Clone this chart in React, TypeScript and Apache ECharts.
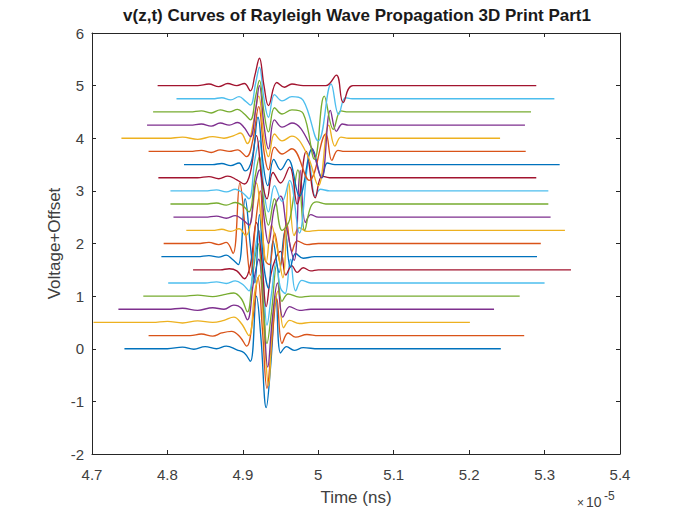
import React, { useEffect, useRef } from "react";
import * as echarts from "echarts";

// Offsets of each trace (Voltage + Offset)
const offsets = [0, 0.25, 0.5, 0.75, 1.0, 1.25, 1.5, 1.75, 2.0, 2.25, 2.5, 2.75, 3.0, 3.25, 3.5, 3.75, 4.0, 4.25, 4.5, 4.75, 5.0];

// Key points of each trace: [time (x1e-5), voltage relative to its offset]
const trace0 = [[4.743,0],[4.80,0],[4.82,0.03],[4.835,-0.01],[4.85,0.04],[4.865,0],[4.878,0.05],[4.892,-0.02],[4.902,-0.08],[4.910,-0.24],[4.918,1.0],[4.924,0.2],[4.931,-1.12],[4.937,-0.3],[4.944,1.0],[4.950,-0.08],[4.958,0.04],[4.968,-0.03],[4.98,0.02],[5.0,0],[5.242,0]];
const trace1 = [[4.775,0],[4.83,0],[4.845,0.03],[4.86,-0.01],[4.872,0.05],[4.885,0.08],[4.896,-0.02],[4.905,-0.2],[4.913,0.3],[4.920,1.1],[4.926,0.1],[4.932,-1.0],[4.938,-0.2],[4.945,0.7],[4.952,-0.15],[4.96,0.05],[4.97,-0.03],[4.985,0.02],[5.0,0],[5.273,0]];
const trace2 = [[4.702,0],[4.78,0],[4.80,0.02],[4.82,-0.01],[4.84,0.03],[4.86,0],[4.875,0.04],[4.888,0.1],[4.898,-0.02],[4.908,-0.25],[4.916,0.6],[4.922,0.9],[4.928,-0.2],[4.934,-1.2],[4.940,0.1],[4.947,0.6],[4.954,-0.1],[4.962,0.04],[4.975,-0.02],[4.99,0],[5.201,0]];
const trace3 = [[4.735,0],[4.80,0],[4.82,0.02],[4.84,-0.02],[4.86,0.03],[4.875,0],[4.888,0.08],[4.898,0.02],[4.906,-0.2],[4.914,0.5],[4.921,0.95],[4.927,0.1],[4.933,-1.1],[4.939,-0.2],[4.946,0.5],[4.953,-0.15],[4.962,0.05],[4.975,-0.02],[4.99,0],[5.233,0]];
const trace4 = [[4.768,0],[4.82,0],[4.84,0.02],[4.86,-0.01],[4.875,0.03],[4.888,0.06],[4.898,-0.05],[4.906,-0.3],[4.913,0.4],[4.920,1.0],[4.926,0.2],[4.932,-0.9],[4.938,-0.3],[4.945,0.6],[4.952,-0.1],[4.96,0.04],[4.975,-0.02],[4.99,0],[5.267,0]];
const trace5 = [[4.801,0],[4.85,0],[4.865,0.02],[4.878,-0.01],[4.89,0.04],[4.90,-0.03],[4.908,-0.15],[4.915,0.5],[4.921,1.0],[4.927,0.1],[4.932,-0.8],[4.938,-0.2],[4.944,0.4],[4.950,-0.1],[4.956,-0.2],[4.963,0.45],[4.970,-0.15],[4.978,0.05],[4.99,0],[5.30,0]];
const trace6 = [[4.834,0],[4.87,0],[4.882,0.02],[4.892,-0.02],[4.902,-0.17],[4.910,0.1],[4.918,0.9],[4.925,0.2],[4.931,-0.7],[4.937,-0.1],[4.943,0.2],[4.950,0.35],[4.957,-0.1],[4.965,0.08],[4.972,-0.05],[4.98,0.04],[4.99,-0.02],[5.0,0],[5.335,0]];
const trace7 = [[4.792,0],[4.84,0],[4.855,0.02],[4.868,-0.01],[4.878,0.03],[4.886,-0.05],[4.894,-0.15],[4.903,1.1],[4.910,0.2],[4.916,-0.5],[4.922,0.8],[4.928,-0.2],[4.934,-0.6],[4.940,0.3],[4.948,-0.3],[4.956,0.5],[4.963,-0.2],[4.970,0.06],[4.98,-0.03],[4.995,0],[5.29,0]];
const trace8 = [[4.795,0],[4.84,0],[4.855,0.02],[4.868,-0.02],[4.878,0.02],[4.887,-0.19],[4.896,1.15],[4.903,0.3],[4.910,-0.6],[4.917,0.4],[4.923,1.0],[4.929,-0.3],[4.935,-0.4],[4.942,0.2],[4.950,-0.4],[4.958,0.4],[4.965,-0.15],[4.972,0.05],[4.985,-0.02],[5.0,0],[5.295,0]];
const trace9 = [[4.825,0],[4.86,0],[4.872,0.02],[4.884,-0.02],[4.895,0.03],[4.904,-0.1],[4.911,0.2],[4.918,0.9],[4.925,0.1],[4.931,-0.6],[4.938,0.1],[4.945,-0.3],[4.953,-0.9],[4.961,0.9],[4.968,-0.1],[4.975,0.05],[4.985,-0.02],[5.0,0],[5.327,0]];
const trace10 = [[4.808,0],[4.85,0],[4.865,0.02],[4.878,-0.02],[4.89,0.03],[4.900,-0.05],[4.908,-0.15],[4.916,0.6],[4.922,0.9],[4.928,0.0],[4.934,-0.5],[4.942,0.2],[4.950,0.4],[4.958,-0.2],[4.968,-0.82],[4.976,0.89],[4.983,-0.1],[4.990,0.05],[5.0,0],[5.308,0]];
const trace11 = [[4.804,0],[4.85,0],[4.865,0.02],[4.878,-0.02],[4.89,0.03],[4.900,-0.03],[4.908,-0.15],[4.916,0.5],[4.922,0.9],[4.928,0.0],[4.934,-0.4],[4.942,0.1],[4.952,-0.5],[4.962,-0.3],[4.973,0.65],[4.982,-0.5],[4.990,-0.05],[4.998,0.04],[5.01,0],[5.305,0]];
const trace12 = [[4.804,0],[4.85,0],[4.865,0.02],[4.878,-0.02],[4.89,0.03],[4.900,-0.04],[4.908,-0.15],[4.916,0.6],[4.922,0.95],[4.928,0.0],[4.934,-0.4],[4.942,0.1],[4.952,-0.2],[4.962,0.2],[4.975,-0.8],[4.988,0.55],[4.996,-0.1],[5.003,0.03],[5.015,0],[5.305,0]];
const trace13 = [[4.788,0],[4.84,0],[4.855,0.02],[4.868,-0.02],[4.88,0.03],[4.892,-0.04],[4.902,-0.12],[4.910,0.1],[4.918,0.8],[4.925,0.0],[4.932,-0.4],[4.940,0.1],[4.950,-0.1],[4.962,0.2],[4.972,-0.5],[4.984,0.5],[4.996,-0.38],[5.005,0.03],[5.015,0],[5.289,0]];
const trace14 = [[4.822,0],[4.86,0],[4.872,0.02],[4.884,-0.02],[4.895,0.03],[4.903,-0.12],[4.912,0.1],[4.920,0.9],[4.927,0.0],[4.933,-0.4],[4.941,0.1],[4.950,-0.1],[4.960,0.1],[4.975,-0.6],[4.992,0.3],[5.005,-0.25],[5.012,0.03],[5.022,0],[5.32,0]];
const trace15 = [[4.775,0],[4.83,0],[4.845,0.02],[4.858,-0.02],[4.87,0.03],[4.882,0],[4.893,0.03],[4.905,-0.1],[4.913,0.2],[4.921,0.85],[4.928,0.0],[4.934,-0.35],[4.942,0.08],[4.952,-0.05],[4.965,0.05],[4.988,-0.55],[5.01,0.33],[5.018,-0.17],[5.026,0.02],[5.035,0],[5.275,0]];
const trace16 = [[4.739,0],[4.80,0],[4.82,0.02],[4.84,-0.02],[4.86,0.03],[4.875,0],[4.888,0.05],[4.897,0.1],[4.906,-0.1],[4.914,0.3],[4.921,0.8],[4.928,0.0],[4.934,-0.35],[4.942,0.08],[4.952,-0.05],[4.965,0.04],[4.985,-0.3],[5.0,-0.9],[5.014,0.25],[5.022,-0.15],[5.03,0.02],[5.04,0],[5.241,0]];
const trace17 = [[4.773,0],[4.83,0],[4.845,0.02],[4.858,-0.02],[4.87,0.04],[4.882,0],[4.893,0.05],[4.902,-0.05],[4.910,-0.22],[4.917,0.3],[4.922,0.75],[4.928,0.0],[4.934,-0.45],[4.942,0.1],[4.952,-0.04],[4.965,0.04],[4.99,-0.4],[5.004,-1.0],[5.016,0.28],[5.024,-0.12],[5.032,0.02],[5.04,0],[5.274,0]];
const trace18 = [[4.781,0],[4.83,0],[4.845,0.02],[4.858,-0.02],[4.87,0.04],[4.882,0],[4.893,0.05],[4.902,-0.04],[4.910,-0.15],[4.917,0.3],[4.922,0.6],[4.928,0.0],[4.934,-0.38],[4.942,0.08],[4.952,-0.04],[4.965,0.04],[4.98,-0.03],[4.995,-0.9],[5.008,0.3],[5.02,-0.33],[5.03,0.02],[5.04,0],[5.282,0]];
const trace19 = [[4.812,0],[4.86,0],[4.872,0.02],[4.884,-0.02],[4.895,0.04],[4.903,-0.04],[4.910,-0.12],[4.917,0.3],[4.922,0.6],[4.928,0.0],[4.934,-0.35],[4.942,0.08],[4.952,-0.04],[4.965,0.04],[4.98,-0.03],[5.0,-0.8],[5.017,0.28],[5.027,-0.3],[5.036,0.02],[5.045,0],[5.313,0]];
const trace20 = [[4.787,0],[4.84,0],[4.855,0.03],[4.868,-0.02],[4.88,0.04],[4.892,0.0],[4.902,0.04],[4.910,-0.1],[4.916,0.2],[4.922,0.52],[4.928,0.0],[4.934,-0.38],[4.945,0.06],[4.955,-0.03],[4.965,0.03],[4.98,0],[5.01,0],[5.024,0.2],[5.033,-0.32],[5.046,0],[5.289,0]];

const traces = [trace0, trace1, trace2, trace3, trace4, trace5, trace6, trace7, trace8, trace9, trace10, trace11, trace12, trace13, trace14, trace15, trace16, trace17, trace18, trace19, trace20];

const xTicks = [4.7, 5.4, 0.1]; // min, max, step (x 1e-5)
const yTicks = [-2, 6, 1];

const palette = ["#0072BD", "#D95319", "#EDB120", "#7E2F8E", "#77AC30", "#4DBEEE", "#A2142F"];

const FONT = "'Liberation Sans', Arial, Helvetica, sans-serif";
const AXIS_COLOR = "#262626";
const LABEL_COLOR = "#404040";

function fmt(v: number) {
  return String(Number(v.toFixed(1)));
}

export default function App() {
  const ref = useRef<HTMLDivElement>(null);
  useEffect(() => {
    document.body.style.margin = "0";
    if (!ref.current) return;
    const chart = echarts.init(ref.current, null, { renderer: "svg" });

    const baseAxisX = {
      type: "value" as const,
      min: xTicks[0],
      max: xTicks[1],
      interval: xTicks[2],
      splitLine: { show: false },
      axisLine: { show: true, onZero: false, lineStyle: { color: AXIS_COLOR, width: 1 } },
      axisTick: { show: true, inside: true, length: 4, lineStyle: { color: AXIS_COLOR } },
    };
    const baseAxisY = {
      type: "value" as const,
      min: yTicks[0],
      max: yTicks[1],
      interval: yTicks[2],
      splitLine: { show: false },
      axisLine: { show: true, onZero: false, lineStyle: { color: AXIS_COLOR, width: 1 } },
      axisTick: { show: true, inside: true, length: 4, lineStyle: { color: AXIS_COLOR } },
    };

    const series = traces.map((tr, i) => ({
      type: "line" as const,
      xAxisIndex: 0,
      yAxisIndex: 0,
      showSymbol: false,
      smooth: 0.4,
      lineStyle: { width: 1.35, color: palette[i % palette.length] },
      itemStyle: { color: palette[i % palette.length] },
      data: tr.map((p) => [p[0], p[1] + offsets[i]]),
      z: 2 + i,
    }));

    chart.setOption({
      animation: false,
      backgroundColor: "#ffffff",
      grid: { left: 92, right: 53, top: 33, bottom: 58, containLabel: false },
      xAxis: [
        {
          ...baseAxisX,
          position: "bottom",
          name: "Time (ns)",
          nameLocation: "middle",
          nameGap: 35,
          nameMoveOverlap: false,
          nameTextStyle: { fontFamily: FONT, fontSize: 17, color: LABEL_COLOR },
          axisLabel: { show: true, fontFamily: FONT, fontSize: 15, color: LABEL_COLOR, margin: 13, formatter: (v: number) => fmt(v) },
        },
        { ...baseAxisX, position: "top", axisLabel: { show: false } },
      ],
      yAxis: [
        {
          ...baseAxisY,
          position: "left",
          name: "Voltage+Offset",
          nameLocation: "middle",
          nameGap: 29,
          nameMoveOverlap: false,
          nameTextStyle: { fontFamily: FONT, fontSize: 17, color: LABEL_COLOR },
          axisLabel: { show: true, fontFamily: FONT, fontSize: 15, color: LABEL_COLOR, margin: 8, formatter: (v: number) => String(v) },
        },
        { ...baseAxisY, position: "right", axisLabel: { show: false } },
      ],
      graphic: [
        {
          type: "text",
          x: 357,
          y: 15,
          style: {
            text: "v(z,t) Curves of Rayleigh Wave Propagation 3D Print Part1",
            font: `bold 17px ${FONT}`,
            fill: "#1a1a1a",
            textAlign: "center",
            textVerticalAlign: "middle",
          },
        },
        {
          type: "text",
          x: 586,
          y: 502,
          style: {
            text: "10",
            font: `14px ${FONT}`,
            fill: LABEL_COLOR,
            textAlign: "left",
            textVerticalAlign: "middle",
          },
        },
        {
          type: "text",
          x: 584,
          y: 503,
          style: {
            text: "×",
            font: `12px ${FONT}`,
            fill: LABEL_COLOR,
            textAlign: "right",
            textVerticalAlign: "middle",
          },
        },
        {
          type: "text",
          x: 604,
          y: 496,
          style: {
            text: "-5",
            font: `12px ${FONT}`,
            fill: LABEL_COLOR,
            textAlign: "left",
            textVerticalAlign: "middle",
          },
        },
      ],
      series,
    });
    return () => chart.dispose();
  }, []);
  return <div ref={ref} style={{ width: 673, height: 512 }} />;
}
